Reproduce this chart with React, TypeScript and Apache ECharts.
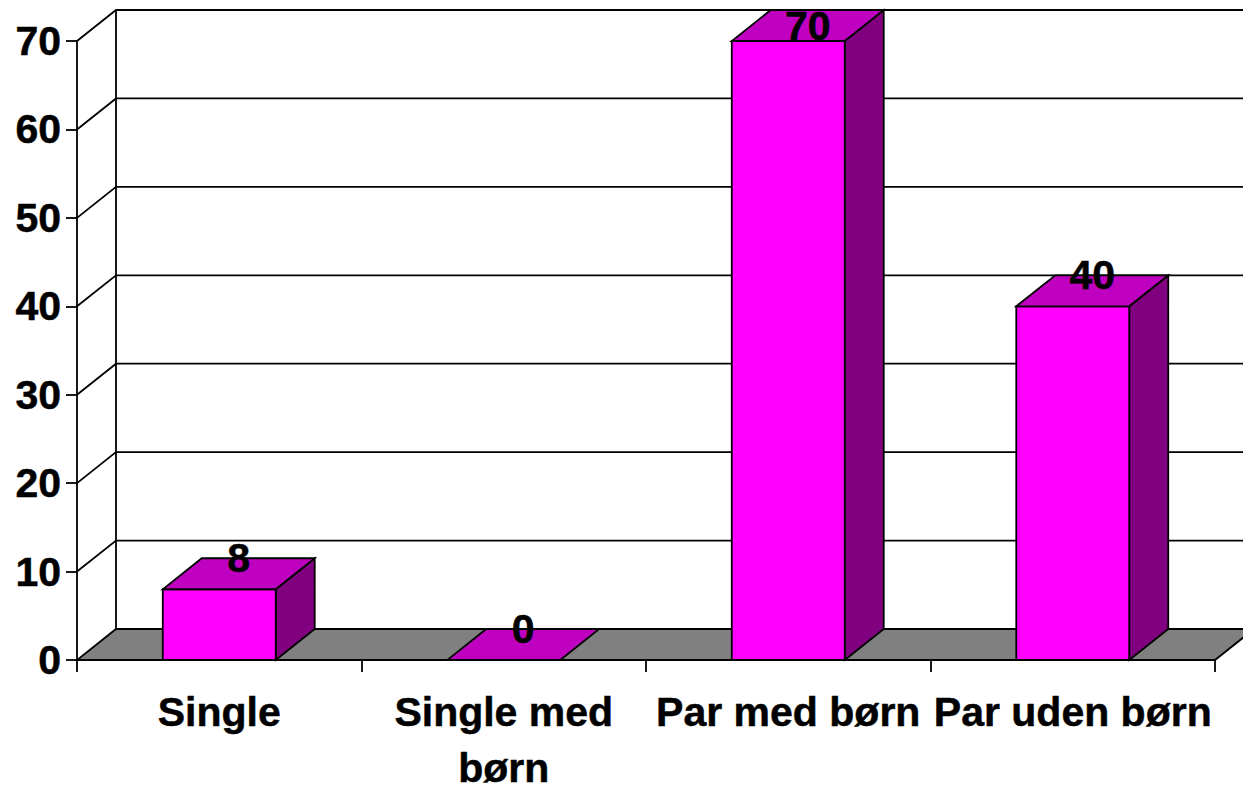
import React, { useEffect, useRef } from "react";
import * as echarts from "echarts";

const categories = ["Single", "Single med\nbørn", "Par med børn", "Par uden børn"];
const values = [8, 0, 70, 40];
const valueTicks = [0, 10, 20, 30, 40, 50, 60, 70];

const DX = 39;
const DY = 31;
const FONT = "'Liberation Sans', Arial, sans-serif";
const FONT_SIZE = 41;
const LINE = 1.8;
const TEXT_WEIGHT = 0.5;

export default function App() {
  const ref = useRef<HTMLDivElement>(null);
  useEffect(() => {
    const chart = echarts.init(ref.current!, undefined, { renderer: "svg" });
    chart.setOption({
      animation: false,
      backgroundColor: "#ffffff",
      grid: { left: 77, right: 28, top: 41, bottom: 127, containLabel: false, outerBoundsMode: "none" },
      xAxis: {
        type: "category",
        data: categories,
        axisLine: { show: true, lineStyle: { color: "#000", width: LINE + 0.2 } },
        axisTick: { show: true, alignWithLabel: false, length: 12, lineStyle: { color: "#000", width: LINE } },
        axisLabel: {
          interval: 0,
          color: "#000",
          fontFamily: FONT,
          fontSize: FONT_SIZE,
          fontWeight: "bold",
          textBorderColor: "#000",
          textBorderWidth: TEXT_WEIGHT,
          lineHeight: 56,
          margin: 23.5,
          hideOverlap: false,
        },
        splitLine: { show: false },
      },
      yAxis: {
        type: "value",
        min: 0,
        max: 70,
        interval: 10,
        axisLine: { show: true, lineStyle: { color: "#000", width: LINE } },
        axisTick: { show: true, length: 11, lineStyle: { color: "#000", width: LINE } },
        axisLabel: {
          color: "#000",
          fontFamily: FONT,
          fontSize: FONT_SIZE,
          fontWeight: "bold",
          textBorderColor: "#000",
          textBorderWidth: TEXT_WEIGHT,
          margin: 16,
        },
        splitLine: { show: false },
      },
      series: [
        {
          type: "custom",
          z: 1,
          silent: true,
          clip: false,
          data: valueTicks.map((v) => [0, v]),
          encode: { x: 0, y: 1 },
          renderItem: (params: any, api: any) => {
            const tick = api.value(1);
            const cs = params.coordSys;
            const left = cs.x;
            const right = cs.x + cs.width;
            const y = api.coord([0, tick])[1];
            const children: any[] = [];
            const stroke = { stroke: "#000", lineWidth: LINE, fill: "none" };
            if (tick === valueTicks[0]) {
              children.push({
                type: "polygon",
                shape: { points: [[left, y], [right, y], [right + DX, y - DY], [left + DX, y - DY]] },
                style: { fill: "#808080", stroke: "#000", lineWidth: LINE },
              });
              children.push({
                type: "line",
                shape: { x1: left + DX, y1: y - DY, x2: left + DX, y2: cs.y - DY },
                style: stroke,
              });
            } else {
              children.push({
                type: "polyline",
                shape: { points: [[left, y], [left + DX, y - DY], [right + DX, y - DY]] },
                style: stroke,
              });
            }
            return { type: "group", children };
          },
        },
        {
          type: "custom",
          z: 3,
          silent: true,
          clip: false,
          data: values.map((v, i) => [i, v]),
          encode: { x: 0, y: 1 },
          renderItem: (params: any, api: any) => {
            const idx = api.value(0);
            const val = api.value(1);
            const [cx, top] = api.coord([idx, val]);
            const base = api.coord([idx, 0])[1];
            const w = api.size([1, 0])[0] * 0.397;
            const l = cx - w / 2;
            const r = cx + w / 2;
            const edge = { stroke: "#000", lineWidth: LINE };
            const children: any[] = [];
            if (val > 0) {
              children.push({
                type: "polygon",
                shape: { points: [[r, base], [r + DX, base - DY], [r + DX, top - DY], [r, top]] },
                style: { fill: "#800080", ...edge },
              });
              children.push({
                type: "rect",
                shape: { x: l, y: top, width: w, height: base - top },
                style: { fill: "#ff00ff", ...edge },
              });
            }
            children.push({
              type: "polygon",
              shape: { points: [[l, top], [r, top], [r + DX, top - DY], [l + DX, top - DY]] },
              style: { fill: "#c000c0", ...edge },
            });
            children.push({
              type: "text",
              style: {
                text: String(val),
                x: cx + 19.5,
                y: Math.max(top - 31.5, 26),
                align: "center",
                verticalAlign: "middle",
                fill: "#000",
                stroke: "#000",
                lineWidth: TEXT_WEIGHT,
                fontFamily: FONT,
                fontSize: FONT_SIZE,
                fontWeight: "bold",
              },
            });
            return { type: "group", children };
          },
        },
      ],
    });
    return () => chart.dispose();
  }, []);
  return (
    <div
      ref={ref}
      style={{ position: "absolute", left: 0, top: 0, width: 1243, height: 787 }}
    />
  );
}
